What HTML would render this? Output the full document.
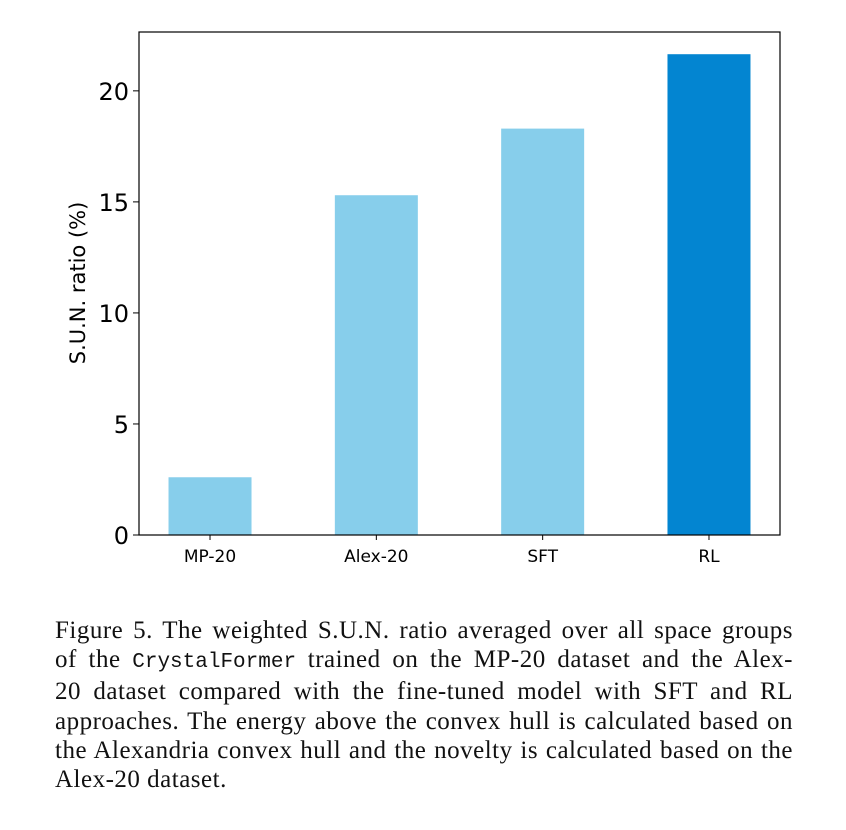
<!DOCTYPE html>
<html><head><meta charset="utf-8"><style>
body{margin:0;width:846px;height:830px;background:#fff;overflow:hidden;position:relative}
#cap{position:absolute;left:55px;top:616px;width:738px;font-family:"Liberation Serif",serif;font-size:25px;letter-spacing:0.5px;line-height:29.2px;color:#111}
#cap div{text-align:justify;text-align-last:justify;white-space:nowrap}
#cap div.last{text-align-last:left}
#cap code{font-family:"Liberation Mono",monospace;font-size:21px;letter-spacing:0}
</style></head><body>
<svg id="chart" width="846" height="600" style="position:absolute;left:0;top:0"></svg>
<div id="cap">
<div>Figure 5. The weighted S.U.N. ratio averaged over all space groups</div>
<div>of the <code>CrystalFormer</code> trained on the MP-20 dataset and the Alex-</div>
<div>20 dataset compared with the fine-tuned model with SFT and RL</div>
<div>approaches. The energy above the convex hull is calculated based on</div>
<div>the Alexandria convex hull and the novelty is calculated based on the</div>
<div class="last">Alex-20 dataset.</div>
</div>
<script>
const categories=["MP-20","Alex-20","SFT","RL"];
const values=[2.6,15.3,18.3,21.65];
const yTicks=[0,5,10,15,20];
const NS="http://www.w3.org/2000/svg";
const svg=document.getElementById('chart');
const L=139,R=780,T=32,B=535,yMax=22.65;
const y=v=>B-(v/yMax)*(B-T);
const xMin=-0.427,xMax=categories.length-1+0.427;
const x=i=>L+(i-xMin)/(xMax-xMin)*(R-L);
function mk(t,a){const e=document.createElementNS(NS,t);for(const k in a)e.setAttribute(k,a[k]);svg.appendChild(e);return e;}
categories.forEach((c,i)=>{
  const bw=83;
  const r=mk('rect',{x:x(i)-bw/2,y:y(values[i]),width:bw,height:B-y(values[i]),fill:i===3?'#0385d1':'#87ceeb'});
  
  
  mk('line',{x1:x(i),x2:x(i),y1:B,y2:B+5,stroke:'#000','stroke-width':1});
  const t=mk('text',{x:x(i),y:B+27,'text-anchor':'middle','font-family':'DejaVu Sans, sans-serif','font-size':17});
  t.textContent=c;
  
  
});
yTicks.forEach(v=>{
  mk('line',{x1:L-6,x2:L,y1:y(v),y2:y(v),stroke:'#000','stroke-width':1});
  const t=mk('text',{x:L-10,y:y(v)+9,'text-anchor':'end','font-family':'DejaVu Sans, sans-serif','font-size':24});
  t.textContent=v;
  
  
});
const f=mk('rect',{x:L,y:T,width:R-L,height:B-T,fill:'none',stroke:'#000','stroke-width':1.2});


const yt=mk('text',{x:0,y:0,transform:'translate(85,283) rotate(-90)','text-anchor':'middle','font-family':'DejaVu Sans, sans-serif','font-size':21});
yt.textContent='S.U.N. ratio (%)';


</script>
</body></html>
